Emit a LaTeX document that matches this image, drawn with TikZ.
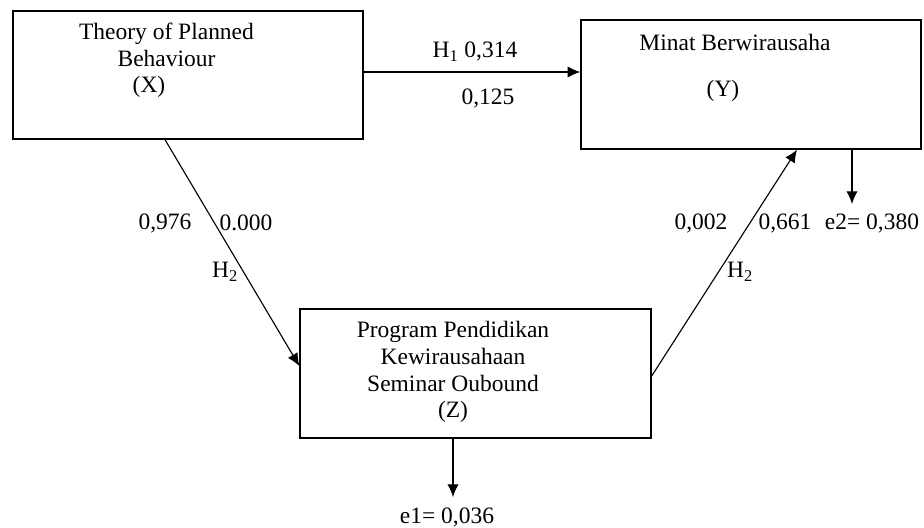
\documentclass[tikz,border=0pt]{standalone}
\usepackage{fontspec}
\setmainfont{Liberation Serif}
\usetikzlibrary{arrows.meta}

\begin{document}
\begin{tikzpicture}[x=0.025cm,y=-0.025cm,
    box/.style={draw,line width=0.9pt,inner sep=0pt},
    txt/.style={font=\fontsize{16.7}{19}\selectfont,inner sep=0pt,align=center},
    arr/.style={line width=0.8pt,-{Latex[length=9pt,width=8pt]}}]
  \useasboundingbox (0,0) rectangle (924,527);

  \node[box,minimum width=8.75cm,minimum height=3.2cm] (X) at (188,75) {};
  \node[box,minimum width=8.5cm,minimum height=3.225cm] (Y) at (751,84.5) {};
  \node[box,minimum width=8.775cm,minimum height=3.225cm] (Z) at (475.5,373.5) {};

  \node[txt] (xname) at (166.5,45) {Theory of Planned\\Behaviour};
  \node[txt] (xvar) at (149,87) {(X)};
  \node[txt] (yname) at (735,42) {Minat Berwirausaha};
  \node[txt] (yvar) at (723,91) {(Y)};
  \node[txt] (zname) at (453,372) {Program Pendidikan\\Kewirausahaan\\Seminar Oubound\\(Z)};

  \node[txt] (h1) at (475,52) {H\textsubscript{1} 0,314};
  \node[txt] (p1) at (488,98) {0,125};
  \node[txt] (b2) at (165,223) {0,976};
  \node[txt] (p2) at (246,223) {0.000};
  \node[txt] (h2a) at (225,272) {H\textsubscript{2}};
  \node[txt] (b3) at (701,223) {0,002};
  \node[txt] (p3) at (785,223) {0,661};
  \node[txt] (e2) at (872,223) {e2= 0,380};
  \node[txt] (h2b) at (740,272) {H\textsubscript{2}};
  \node[txt] (e1) at (447,517) {e1= 0,036};

  \coordinate (e2end) at (852,204);
  \coordinate (e1end) at (453,497);

  \draw[arr] (X.east |- 0,72) -- (Y.west |- 0,72);
  \draw[arr] (X.south -| 165,0) -- (Z.west |- 0,366);
  \draw[arr] (Z.east |- 0,376) -- (Y.south -| 797,0);
  \draw[arr] (Y.south -| 852,0) -- (e2end);
  \draw[arr] (Z.south -| 453,0) -- (e1end);
\end{tikzpicture}
\end{document}
